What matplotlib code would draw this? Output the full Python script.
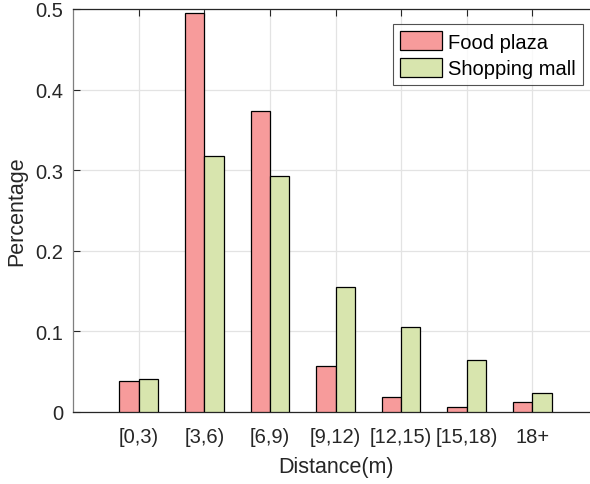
import matplotlib
matplotlib.use("Agg")
import matplotlib.pyplot as plt
import numpy as np

# ── Data ──────────────────────────────────────────────────────────────────────
categories = ["[0,3)", "[3,6)", "[6,9)", "[9,12)", "[12,15)", "[15,18)", "18+"]
food_plaza = [0.038, 0.495, 0.374, 0.057, 0.019, 0.0066, 0.0125]
shopping_mall = [0.041, 0.318, 0.293, 0.155, 0.106, 0.065, 0.024]
yticks = [0, 0.1, 0.2, 0.3, 0.4, 0.5]
ytick_labels = ["0", "0.1", "0.2", "0.3", "0.4", "0.5"]

PINK = "#F79B9B"
GREEN = "#D8E5AE"
AX_CLR = "#262626"

plt.rcParams["font.family"] = ["Liberation Sans", "DejaVu Sans"]

fig = plt.figure(figsize=(5.9, 4.85), dpi=100)
# axes runs slightly past the right edge of the canvas
ax = fig.add_axes([73 / 590, 72 / 485, 525 / 590, 403 / 485])

x = np.arange(1, len(categories) + 1)
w = 0.295
ax.bar(x - w / 2, food_plaza, w, color=PINK, edgecolor="black", linewidth=0.9,
       label="Food plaza", zorder=3)
ax.bar(x + w / 2, shopping_mall, w, color=GREEN, edgecolor="black", linewidth=0.9,
       label="Shopping mall", zorder=3)

ax.set_xlim(0, 8)
ax.set_ylim(0, 0.5)
ax.set_xticks(x)
ax.set_xticklabels(categories)
ax.set_yticks(yticks)
ax.set_yticklabels(ytick_labels)

ax.grid(True, color="#E3E3E3", linewidth=0.9, zorder=0)
ax.set_axisbelow(True)
ax.tick_params(direction="in", length=5, width=0.8, color=AX_CLR,
               labelsize=14.5, labelcolor=AX_CLR, top=True, right=False, pad=7)
ax.tick_params(axis="x", pad=11)
for side in ["top", "bottom"]:
    ax.spines[side].set_color(AX_CLR)
    ax.spines[side].set_linewidth(0.9)
ax.spines["left"].set_color("#7F7F7F")
ax.spines["left"].set_linewidth(0.9)
ax.spines["right"].set_visible(False)

ax.set_xlabel("Distance(m)", fontsize=15.5, color=AX_CLR, labelpad=7)
ax.set_ylabel("Percentage", fontsize=15.5, color=AX_CLR, labelpad=6)

leg = ax.legend(loc="upper right", bbox_to_anchor=((583 - 73) / 525, 1 - 15 / 403),
                fontsize=14.5, frameon=True, fancybox=False, edgecolor=AX_CLR,
                handlelength=2.1, handleheight=1.1, handletextpad=0.3,
                borderpad=0.35, labelspacing=0.3, borderaxespad=0)
leg.get_frame().set_linewidth(0.8)

fig.savefig("out.png", dpi=100, facecolor="white")
